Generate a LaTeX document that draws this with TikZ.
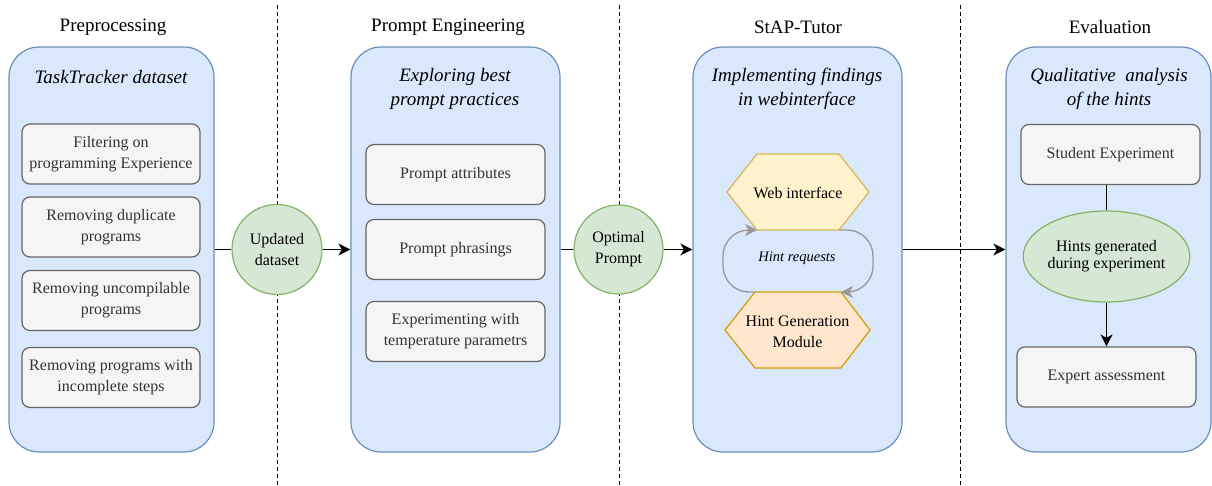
\documentclass[tikz,border=0pt]{standalone}
\usepackage{fontspec}
\setmainfont{Liberation Serif}
\usetikzlibrary{arrows.meta,shapes.geometric}
\definecolor{bluefill}{HTML}{DAE8FC}
\definecolor{blueline}{HTML}{6C8EBF}
\definecolor{grayfill}{HTML}{F5F5F5}
\definecolor{grayline}{HTML}{666666}
\definecolor{graytext}{HTML}{333333}
\definecolor{greenfill}{HTML}{D5E8D4}
\definecolor{greenline}{HTML}{82B366}
\definecolor{yellowfill}{HTML}{FFF2CC}
\definecolor{yellowline}{HTML}{D6B656}
\definecolor{orangefill}{HTML}{FFE6CC}
\definecolor{orangeline}{HTML}{D79B00}
\definecolor{loopgray}{HTML}{999999}
\begin{document}
\begin{tikzpicture}[x=1pt,y=-1pt,
  bigbox/.style={draw=blueline,fill=bluefill,line width=1.2pt,rounded corners=30pt,minimum height=405pt,inner sep=0pt},
  subbox/.style={draw=grayline,fill=grayfill,line width=1.2pt,rounded corners=8pt,minimum width=179pt,minimum height=60pt,inner sep=2pt,text=graytext,align=center,font=\fontsize{16}{21}\selectfont},
  circnode/.style={circle,draw=greenline,fill=greenfill,line width=1.2pt,minimum size=90pt,inner sep=0pt,align=center,font=\fontsize{16}{21}\selectfont},
  titletext/.style={font=\fontsize{19}{23}\selectfont},
  subtitle/.style={font=\fontsize{19}{24}\selectfont\itshape,align=center},
  divider/.style={dashed,dash pattern=on 4pt off 3pt,line width=1pt},
  conn/.style={line width=1.5pt},
  arr/.style={line width=1.5pt,-{Stealth[length=12pt,width=12pt,inset=3.5pt]}},
  looparr/.style={draw=loopgray,line width=1.3pt,rounded corners=26pt,-{Stealth[length=12pt,width=12pt,inset=3.5pt]}},
  plain/.style={inner sep=0pt}
]
\useasboundingbox (0,0) rectangle (1212,485);

% titles
\node[titletext] (t1) at (113,27) {Preprocessing};
\node[titletext] (t2) at (448,27) {Prompt Engineering};
\node[titletext] (t3) at (798,27) {StAP-Tutor};
\node[titletext] (t4) at (1110,27) {Evaluation};

% dividers
\coordinate (d1t) at (277,5); \coordinate (d1b) at (277,485);
\coordinate (d2t) at (619,5); \coordinate (d2b) at (619,485);
\coordinate (d3t) at (960,5); \coordinate (d3b) at (960,485);
\draw[divider] (d1t) -- (d1b);
\draw[divider] (d2t) -- (d2b);
\draw[divider] (d3t) -- (d3b);

% big boxes
\node[bigbox,minimum width=205pt] (b1) at (111.5,249.5) {};
\node[bigbox,minimum width=209pt] (b2) at (455.5,249.5) {};
\node[bigbox,minimum width=209pt] (b3) at (797.5,249.5) {};
\node[bigbox,minimum width=205pt] (b4) at (1108.5,249.5) {};

% subtitles
\node[subtitle] (s1) at (111,77) {TaskTracker dataset};
\node[subtitle] (s2) at (455,89) {Exploring best\\prompt practices};
\node[subtitle] (s3) at (797,89) {Implementing findings\\in webinterface};
\node[subtitle] (s4) at (1109,89) {Qualitative\ \ analysis\\of the hints};

% column 1
\node[subbox,minimum width=178pt] (p1) at (111,154) {Filtering on\\programming Experience};
\node[subbox,minimum width=178pt] (p2) at (111,227) {Removing duplicate\\programs};
\node[subbox,minimum width=178pt] (p3) at (111,300.5) {Removing uncompilable\\programs};
\node[subbox,minimum width=178pt] (p4) at (111,377.5) {Removing programs with\\incomplete steps};

% column 2
\node[subbox] (q1) at (455.5,174.5) {Prompt attributes};
\node[subbox] (q2) at (455.5,249.5) {Prompt phrasings};
\node[subbox] (q3) at (455.5,331.5) {Experimenting with\\temperature parametrs};

% column 3: hexagons
\coordinate (wiL) at (727,192); \coordinate (wiTL) at (757,154); \coordinate (wiTR) at (839,154);
\coordinate (wiR) at (869,192); \coordinate (wiBR) at (839,230); \coordinate (wiBL) at (757,230);
\draw[draw=yellowline,fill=yellowfill,line width=1.2pt] (wiL) -- (wiTL) -- (wiTR) -- (wiR) -- (wiBR) -- (wiBL) -- cycle;
\node[plain,font=\fontsize{16}{21}\selectfont] (wi) at (798,193) {Web interface};

\coordinate (hgL) at (725,330); \coordinate (hgTL) at (755,292); \coordinate (hgTR) at (841,292);
\coordinate (hgR) at (870,330); \coordinate (hgBR) at (841,368); \coordinate (hgBL) at (755,368);
\draw[draw=orangeline,fill=orangefill,line width=1.2pt] (hgL) -- (hgTL) -- (hgTR) -- (hgR) -- (hgBR) -- (hgBL) -- cycle;
\node[plain,align=center,font=\fontsize{16}{21}\selectfont] (hg) at (797.5,332) {Hint Generation\\Module};

\coordinate (lpL1) at (723,292); \coordinate (lpL2) at (723,230);
\coordinate (lpR1) at (873,230); \coordinate (lpR2) at (873,292);
\draw[looparr] (hgTL) -- (lpL1) -- (lpL2) -- (wiBL);
\draw[looparr] (wiBR) -- (lpR1) -- (lpR2) -- (hgTR);
\node[plain,font=\fontsize{14.5}{17}\selectfont\itshape] (hr) at (797,258) {Hint requests};

% column 4
\node[subbox] (se) at (1110.5,154.5) {Student Experiment};
\node[ellipse,draw=greenline,fill=greenfill,line width=1.2pt,minimum width=149pt,minimum height=91pt,inner sep=0pt,align=center,font=\fontsize{16}{17}\selectfont] (el) at (1106.5,256.5) {Hints generated\\during experiment};
\node[subbox] (ea) at (1106.5,377) {Expert assessment};
\draw[conn] (el.north |- se.south) -- (el.north);
\draw[arr] (el.south) -- (ea.north);

% circles
\node[circnode] (c1) at (277,249.5) {Updated\\dataset};
\node[circnode,minimum size=89pt] (c2) at (618.5,249.5) {Optimal\\Prompt};

% main connectors
\draw[conn] (b1.east) -- (c1.west);
\draw[arr] (c1.east) -- (b2.west);
\draw[conn] (b2.east) -- (c2.west);
\draw[arr] (c2.east) -- (b3.west);
\draw[arr] (b3.east) -- (b4.west);
\end{tikzpicture}
\end{document}
